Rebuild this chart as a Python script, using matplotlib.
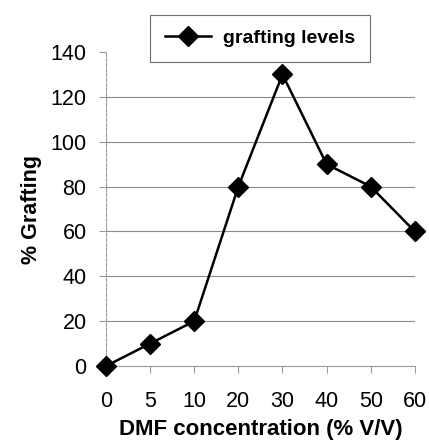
import matplotlib.pyplot as plt

# DMF concentration vs grafting
conc = ["0", "5", "10", "20", "30", "40", "50", "60"]
grafting = [0, 10, 20, 80, 130, 90, 80, 60]
yticks = [0, 20, 40, 60, 80, 100, 120, 140]

plt.rcParams['font.family'] = ['Liberation Sans', 'DejaVu Sans']

fig = plt.figure(figsize=(4.29, 4.41), dpi=100)
ax = fig.add_axes([0.247, 0.170, 0.720, 0.712])

pos = list(range(len(conc)))
line, = ax.plot(pos, grafting, color='black', lw=1.8, marker='D', ms=10,
                markerfacecolor='black', clip_on=False, zorder=5,
                label='grafting levels')

ax.set_xlim(0, len(conc) - 1)
ax.set_ylim(0, 140)
ax.set_xticks(pos)
ax.set_xticklabels(conc)
ax.set_yticks(yticks)

# gridlines (not at the top)
for y in yticks[1:-1]:
    ax.axhline(y, color='#8a8a8a', lw=0.8, zorder=1)

for s in ['top', 'right']:
    ax.spines[s].set_visible(False)
ax.spines['left'].set_color('#9a9a9a')
ax.spines['left'].set_linestyle((0, (3, 1.5)))
ax.spines['left'].set_linewidth(0.8)
ax.spines['bottom'].set_color('#9a9a9a')
ax.spines['bottom'].set_linewidth(0.8)

ax.tick_params(axis='both', labelsize=15.5, color='#9a9a9a', width=0.8)
ax.tick_params(axis='x', length=5, pad=13)
ax.tick_params(axis='y', length=5, pad=9)

ax.set_xlabel('DMF concentration (% V/V)', fontsize=16, fontweight='bold', labelpad=5)
ax.set_ylabel('% Grafting', fontsize=15.5, fontweight='bold', labelpad=6)

leg = fig.legend(handles=[line], loc='upper left', bbox_to_anchor=(0.350, 0.966),
                 borderaxespad=0, fancybox=False, framealpha=1, edgecolor='#707070',
                 prop={'weight': 'bold', 'size': 14}, handlelength=2.4,
                 borderpad=0.75, handletextpad=0.6)
leg.get_frame().set_linewidth(0.8)

fig.savefig('out.png', dpi=100)
